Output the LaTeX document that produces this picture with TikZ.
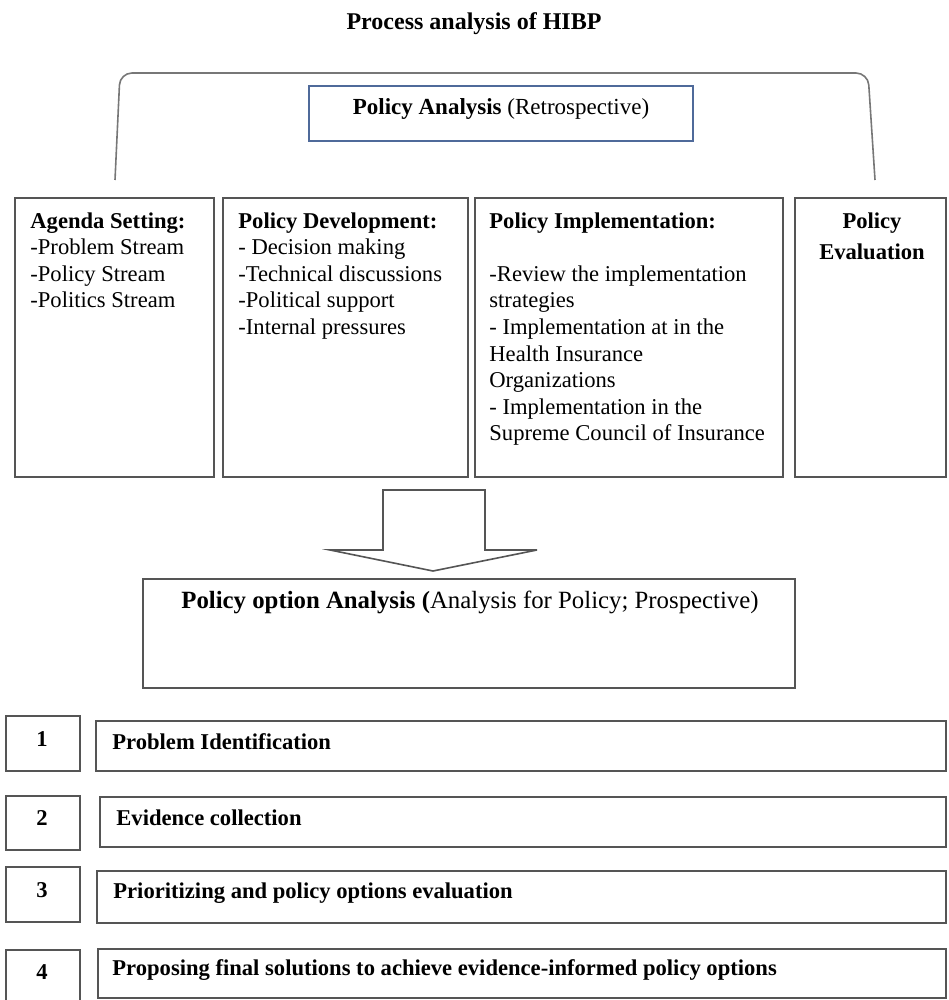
\documentclass[tikz,border=0pt]{standalone}
\usepackage{fontspec}
\setmainfont{Liberation Serif}
\usetikzlibrary{fit,shadows}
\definecolor{linegray}{HTML}{555555}
\definecolor{paBlue}{HTML}{4F6A9A}
\begin{document}
\begin{tikzpicture}[x=0.5pt,y=-0.5pt,
  box/.style={draw=linegray,line width=0.9pt,inner sep=0pt,fill=white,
    drop shadow={shadow xshift=0.6pt,shadow yshift=-0.6pt,opacity=0.25,fill=black}},
  txt/.style={inner sep=0pt,font=\fontsize{11.3}{13.3}\selectfont,align=left},
  rowtxt/.style={inner sep=0pt,font=\fontsize{11.3}{13.3}\selectfont\bfseries,anchor=west},
  numtxt/.style={inner sep=0pt,font=\fontsize{11.3}{13.3}\selectfont\bfseries}]
\useasboundingbox (0,0) rectangle (948,1000);

% title
\node[inner sep=0pt,font=\fontsize{12}{14}\selectfont\bfseries] (title) at (474,24) {Process analysis of HIBP};

% bracket
\draw[linegray!80,line width=0.8pt,rounded corners=6pt] (115,180) -- (120,73) -- (868,73) -- (875,180);

% policy analysis box
\node[draw=paBlue,line width=0.9pt,inner sep=0pt,fill=white,fit={(309,86) (693,141)}] (pa) {};
\node[inner sep=0pt,font=\fontsize{11.5}{14}\selectfont] (patxt) at (501,109) {\textbf{Policy Analysis} (Retrospective)};

% stage boxes
\node[box,fit={(15,198) (214,477)}] (agenda) {};
\node[box,fit={(223,198) (468,477)}] (dev) {};
\node[box,fit={(475,198) (783,477)}] (impl) {};
\node[box,fit={(795,198) (946,477)}] (eval) {};

\node[txt,anchor=north west] (agendatxt) at (30,212) {\textbf{Agenda Setting:}\\-Problem Stream\\-Policy Stream\\-Politics Stream};
\node[txt,anchor=north west] (devtxt) at (238,212) {\textbf{Policy Development:}\\- Decision making\\-Technical discussions\\-Political support\\-Internal pressures};
\node[txt,anchor=north west] (impltxt) at (489,212) {\textbf{Policy Implementation:}\\[13.3pt]-Review the implementation\\strategies\\- Implementation at in the\\Health Insurance\\Organizations\\- Implementation in the\\Supreme Council of Insurance};
\node[txt,anchor=north,align=center,font=\fontsize{11.3}{15.5}\selectfont\bfseries] (evaltxt) at (872,212) {Policy\\Evaluation};

% big arrow
\draw[linegray,line width=0.8pt,fill=white] (383,490) -- (485,490) -- (485,550) -- (537,550) -- (433,571) -- (330,550) -- (383,550) -- cycle;

% policy option box
\node[box,fit={(143,579) (795,688)}] (opt) {};
\node[inner sep=0pt,font=\fontsize{12.4}{15}\selectfont,anchor=north] (opttxt) at (470,591) {\textbf{Policy option Analysis (}Analysis for Policy; Prospective)};

% steps
\node[box,fit={(6,716) (80,771)}] (n1) {};
\node[box,fit={(96,721) (946,771)}] (s1) {};
\node[box,fit={(6,796) (80,850)}] (n2) {};
\node[box,fit={(100,797) (946,847)}] (s2) {};
\node[box,fit={(6,867) (80,922)}] (n3) {};
\node[box,fit={(97,871) (946,923)}] (s3) {};
\node[box,fit={(6,950) (80,1005)}] (n4) {};
\node[box,fit={(98,949) (946,998)}] (s4) {};

\node[numtxt] (n1t) at (42,739) {1};
\node[numtxt] (n2t) at (42,818) {2};
\node[numtxt] (n3t) at (42,890) {3};
\node[numtxt] (n4t) at (42,972) {4};

\node[rowtxt] (s1t) at (112,742) {Problem Identification};
\node[rowtxt] (s2t) at (116,818) {Evidence collection};
\node[rowtxt] (s3t) at (113,893) {Prioritizing and policy options evaluation};
\node[rowtxt] (s4t) at (112,970) {Proposing final solutions to achieve evidence-informed policy options};
\end{tikzpicture}
\end{document}
